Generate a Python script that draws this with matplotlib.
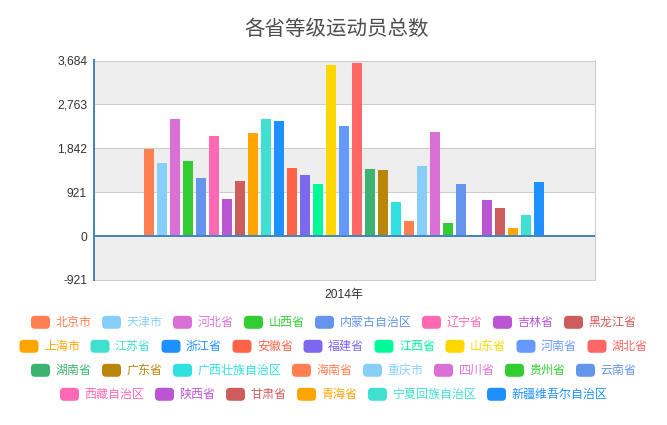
import matplotlib
matplotlib.use('Agg')
import matplotlib.pyplot as plt
from matplotlib.patches import FancyBboxPatch
import numpy as np

# ****************************** data ************************************** #
title = '各省等级运动员总数'
year = '2014年'

provinces = ['北京市', '天津市', '河北省', '山西省', '内蒙古自治区', '辽宁省',
             '吉林省', '黑龙江省', '上海市', '江苏省', '浙江省', '安徽省',
             '福建省', '江西省', '山东省', '河南省', '湖北省', '湖南省',
             '广东省', '广西壮族自治区', '海南省', '重庆市', '四川省', '贵州省',
             '云南省', '西藏自治区', '陕西省', '甘肃省', '青海省',
             '宁夏回族自治区', '新疆维吾尔自治区']

athletes = [1828, 1536, 2454, 1571, 1223, 2099,
            778, 1154, 2155, 2447, 2412, 1439,
            1286, 1084, 3580, 2301, 3635, 1418,
            1390, 709, 327, 1474, 2176, 285,
            1098, 0, 758, 598, 160,
            452, 1126]

yticks = [-921, 0, 921, 1842, 2763, 3684]

palette = ['#ff7f50', '#87cefa', '#da70d6', '#32cd32', '#6495ed',
           '#ff69b4', '#ba55d3', '#cd5c5c', '#ffa500', '#40e0d0',
           '#1e90ff', '#ff6347', '#7b68ee', '#00fa9a', '#ffd700',
           '#6699ff', '#ff6666', '#3cb371', '#b8860b', '#30e0e0']
colors = [palette[i % len(palette)] for i in range(len(provinces))]

# *************************************************************************** #

W, H = 667, 425
plt.rcParams['font.family'] = ['Liberation Sans', 'Noto Sans CJK SC', 'DejaVu Sans']
px = 72 / 100.0   # one pixel in points (dpi 100)

fig = plt.figure(figsize=(W / 100, H / 100), dpi=100)
ax = fig.add_axes([94 / W, 1 - 280 / H, 500.5 / W, 219.5 / H])

# alternating background bands
for k in range(len(yticks) - 1):
    if k % 2 == 0:
        ax.axhspan(yticks[k], yticks[k + 1], color='#eeeeee', zorder=0, lw=0)
for t in yticks[1:]:
    ax.axhline(t, color='#cccccc', lw=1 * px, zorder=1)

# bars, one per province, grouped around the single category
n = len(provinces)
pitch = 13 / 500.5
bar_w = 10 / 500.5
xpos = (np.arange(n) - (n - 1) / 2) * pitch
ax.bar(xpos, athletes, width=bar_w, color=colors, zorder=2, lw=0)

# zero line (x axis sits on zero)
ax.axhline(0, color='#4488bb', lw=2 * px, zorder=3)

ax.set_xlim(-0.5, 0.5)
ax.set_ylim(yticks[0], yticks[-1])
ax.set_yticks(yticks)
ax.set_yticklabels(['{:,}'.format(v) for v in yticks])
ax.set_xticks([0])
ax.set_xticklabels([year])
ax.tick_params(axis='y', length=0, pad=7 * px, labelsize=12 * px, labelcolor='#333333')
ax.tick_params(axis='x', length=0, pad=9 * px, labelsize=12 * px, labelcolor='#333333')

for s in ['top', 'right', 'bottom']:
    ax.spines[s].set_color('#cccccc')
    ax.spines[s].set_linewidth(1 * px)
ax.spines['left'].set_color('#4488bb')
ax.spines['left'].set_linewidth(2 * px)
ax.spines['left'].set_zorder(4)

# title
fig.text(337 / W, 1 - 29 / H, title, ha='center', va='center',
         fontsize=20.5 * px, color='#4d4d4d', family=['Noto Sans CJK SC'])

# legend, wrapped into centred rows like the original
icon_w, icon_h, gap, item_gap, char_w = 20, 14, 5, 10, 12
max_w = W - 10
rows, row, row_w = [], [], 0
for i, name in enumerate(provinces):
    w = icon_w + gap + char_w * len(name)
    add = w if not row else w + item_gap
    if row and row_w + add > max_w:
        rows.append((row, row_w))
        row, row_w = [], 0
        add = w
    row.append(i)
    row_w += add
rows.append((row, row_w))

tr = fig.dpi_scale_trans
y0 = 322.3
for r, (items, tot) in enumerate(rows):
    yc = y0 + r * 24
    x = (W - tot) / 2
    for i in items:
        box = FancyBboxPatch(((x + 0.5) / 100, (H - yc - icon_h / 2 + 0.5) / 100),
                             (icon_w - 1) / 100, (icon_h - 1) / 100,
                             boxstyle='round,pad=0,rounding_size=0.04',
                             transform=tr, facecolor=colors[i], edgecolor='none')
        fig.patches.append(box)
        fig.text((x + icon_w + gap) / 100, (H - yc) / 100, provinces[i],
                 transform=tr, ha='left', va='center', fontsize=12 * px,
                 color=colors[i], family=['Noto Sans CJK SC'])
        x += icon_w + gap + char_w * len(provinces[i]) + item_gap

fig.savefig('out.png', dpi=100)
